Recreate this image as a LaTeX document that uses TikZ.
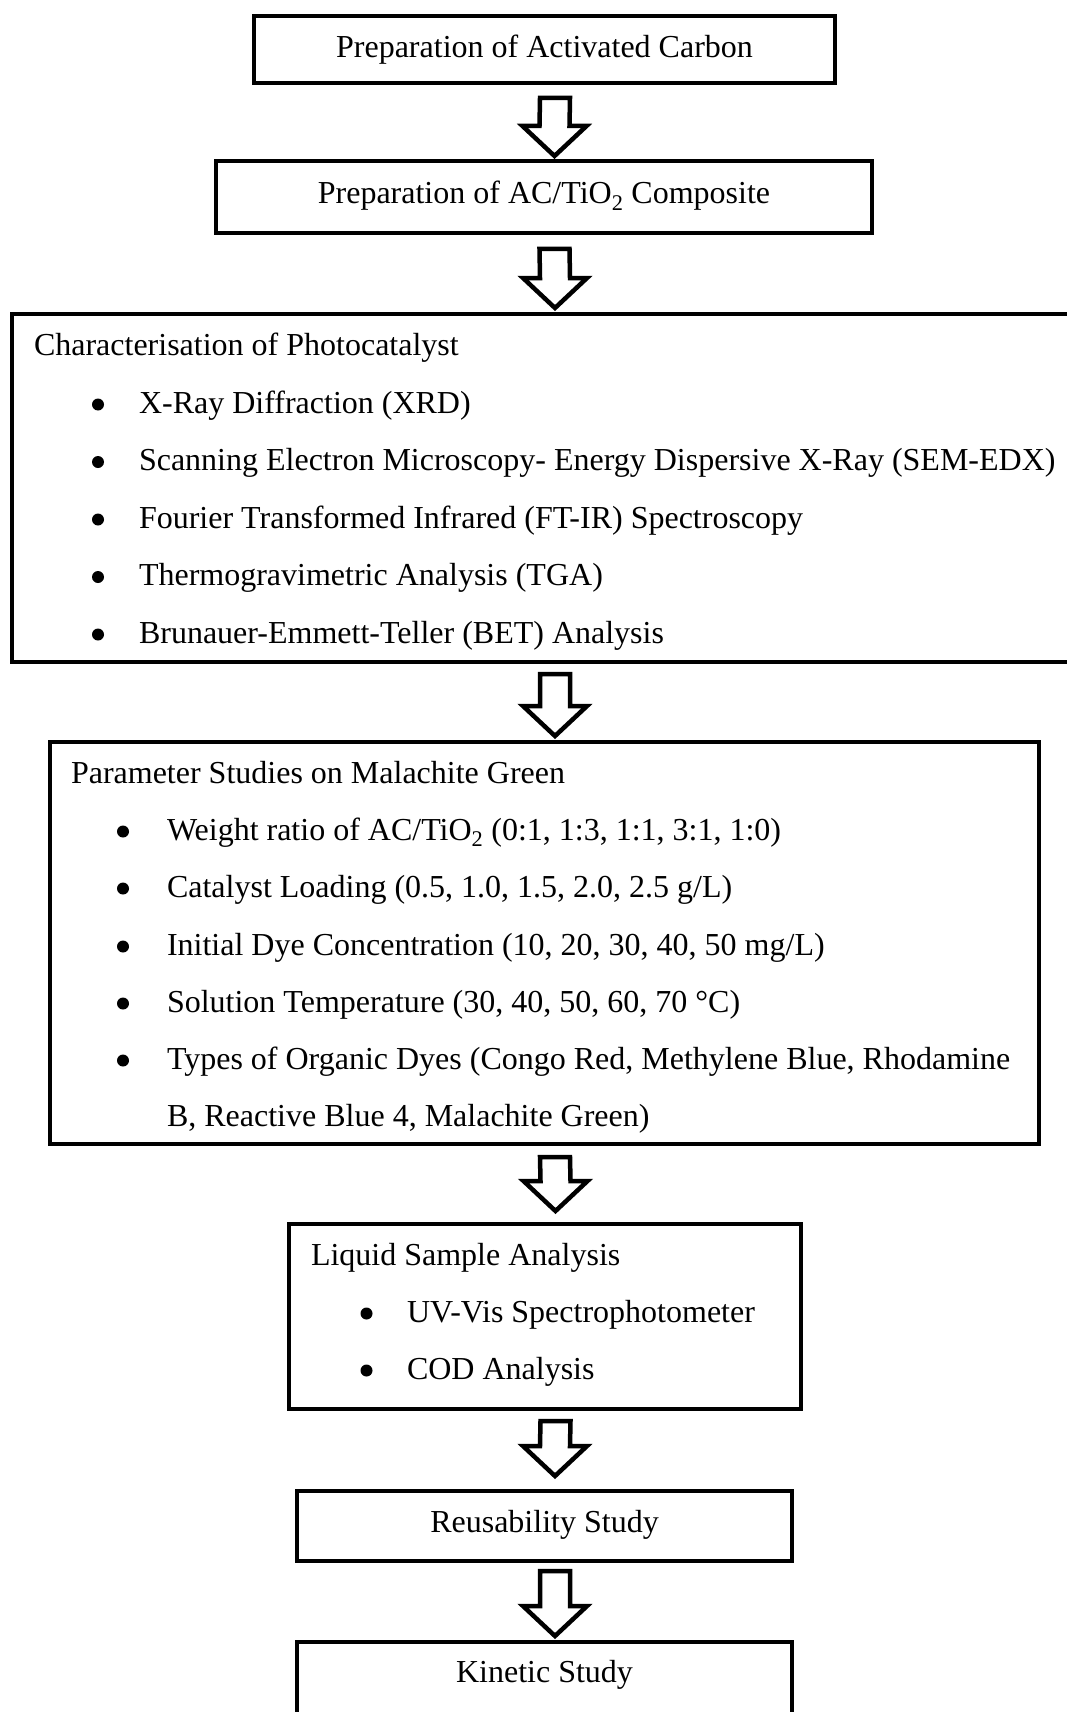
\documentclass[tikz,border=0pt]{standalone}
\usepackage{fontspec}
\setmainfont{Liberation Serif}
\usetikzlibrary{calc}
\newcommand\flowarrow[4]{%
  \draw[blk] ($(#1.south)+(-4.5,#3)$) -- ($(#1.south)+(25.5,#3)$)
    -- ($(#2.north)+(25.5,#4-30)$) -- ($(#2.north)+(42.5,#4-30)$)
    -- ($(#2.north)+(10.5,#4)$) -- ($(#2.north)+(-21.5,#4-30)$)
    -- ($(#2.north)+(-4.5,#4-30)$) -- cycle;}
\begin{document}
\begin{tikzpicture}[x=1pt,y=-1pt,
  box/.style={draw=black, line width=4.5pt, inner sep=0pt, outer sep=0pt},
  blk/.style={draw=black, fill=white, line width=4.5pt, line join=miter},
  txt/.style={anchor=base west, inner sep=0pt, outer sep=0pt, font=\fontsize{32}{38}\selectfont},
  ctxt/.style={anchor=base, inner sep=0pt, outer sep=0pt, font=\fontsize{32}{38}\selectfont},
  bul/.style={circle, fill=black, inner sep=0pt, outer sep=0pt, minimum size=12pt}
]
\useasboundingbox (0,0) rectangle (1067,1712);
\fill[white] (0,0) rectangle (1067,1712);
\clip (0,0) rectangle (1067,1712);

% boxes
\node[box, minimum width=581pt, minimum height=67pt] (b1) at (544.5,49.5) {};
\node[box, minimum width=656pt, minimum height=72pt] (b2) at (544,197) {};
\node[box, minimum width=1065pt, minimum height=348pt] (b3) at (544.5,488) {};
\node[box, minimum width=989pt, minimum height=402pt] (b4) at (544.5,943) {};
\node[box, minimum width=512pt, minimum height=185pt] (b5) at (545,1316.5) {};
\node[box, minimum width=495pt, minimum height=70pt] (b6) at (544.5,1526) {};
\node[box, minimum width=495pt, minimum height=100pt] (b7) at (544.5,1692) {};

% texts
\node[ctxt] (t1) at (544.5,58) {Preparation of Activated Carbon};
\node[ctxt] (t2) at (544,204) {Preparation of AC/TiO\textsubscript{2} Composite};

\node[txt] (h3) at (34,355) {Characterisation of Photocatalyst};
\foreach \y/\s [count=\i] in {413/{X-Ray Diffraction (XRD)},
  470.5/{Scanning Electron Microscopy- Energy Dispersive X-Ray (SEM-EDX)},
  528/{Fourier Transformed Infrared (FT-IR) Spectroscopy},
  585.5/{Thermogravimetric Analysis (TGA)},
  643/{Brunauer-Emmett-Teller (BET) Analysis}}{
  \node[bul] (c3b\i) at (98,\y-8.5) {};
  \node[txt] (c3t\i) at (139,\y) {\s};
}

\node[txt] (h4) at (71,783) {Parameter Studies on Malachite Green};
\foreach \y/\s [count=\i] in {840/{Weight ratio of AC/TiO\textsubscript{2} (0:1, 1:3, 1:1, 3:1, 1:0)},
  897/{Catalyst Loading (0.5, 1.0, 1.5, 2.0, 2.5 g/L)},
  955/{Initial Dye Concentration (10, 20, 30, 40, 50 mg/L)},
  1012/{Solution Temperature (30, 40, 50, 60, 70 °C)},
  1069/{Types of Organic Dyes (Congo Red, Methylene Blue, Rhodamine}}{
  \node[bul] (c4b\i) at (123,\y-8.5) {};
  \node[txt] (c4t\i) at (167,\y) {\s};
}
\node[txt] (c4t6) at (167,1126) {B, Reactive Blue 4, Malachite Green)};

\node[txt] (h5) at (311,1265) {Liquid Sample Analysis};
\node[bul] (c5b1) at (366.5,1313.5) {};
\node[txt] (c5t1) at (407,1322) {UV-Vis Spectrophotometer};
\node[bul] (c5b2) at (366.5,1370.5) {};
\node[txt] (c5t2) at (407,1379) {COD Analysis};

\node[ctxt] (t6) at (544.5,1532) {Reusability Study};
\node[ctxt] (t7) at (544.5,1682) {Kinetic Study};

% arrows
\flowarrow{b1}{b2}{15}{-5}
\flowarrow{b2}{b3}{16}{-6}
\flowarrow{b3}{b4}{12}{-6}
\flowarrow{b4}{b5}{13}{-13}
\flowarrow{b5}{b6}{12}{-15}
\flowarrow{b6}{b7}{10}{-6}
\end{tikzpicture}
\end{document}
